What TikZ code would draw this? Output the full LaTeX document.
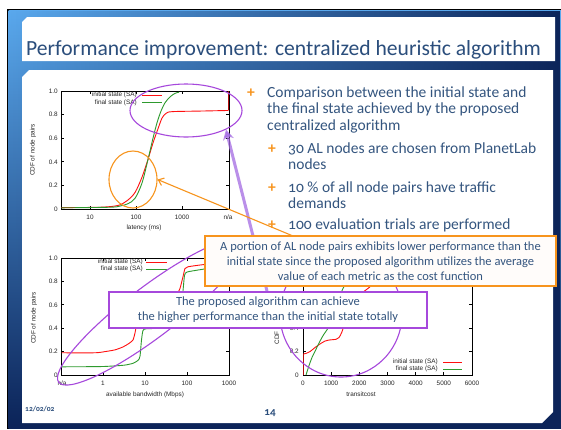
\documentclass[tikz,border=0pt]{standalone}
\usepackage{fontspec}
\setmainfont{Carlito}[Numbers=OldStyle]
\newfontfamily\plotfont{Liberation Sans}
\usetikzlibrary{arrows.meta,shapes.geometric,fadings}
\definecolor{txtblue}{HTML}{34557F}
\definecolor{ttlblue}{HTML}{2B4E7C}
\definecolor{orng}{HTML}{F7941D}
\definecolor{purp}{HTML}{A648DC}
\definecolor{arrowpurp}{HTML}{A36AE2}
\definecolor{plotred}{HTML}{FF1010}
\definecolor{plotgreen}{HTML}{2E9A2E}
\definecolor{bglight}{HTML}{5AA9EE}
\definecolor{bgmid}{HTML}{2C6CC0}
\definecolor{bgdark}{HTML}{0C2459}
\tikzfading[name=darkright, left color=transparent!100, right color=transparent!0]
\begin{document}
\begin{tikzpicture}[x=1pt,y=-1pt,
  plotframe/.style={line width=0.7pt,black},
  ticklab/.style={font=\plotfont\fontsize{6.4}{7}\selectfont, inner sep=0pt, text=black!85},
  redc/.style={plotred, line width=0.9pt},
  greenc/.style={plotgreen, line width=0.9pt},
  bodytxt/.style={anchor=base west, inner sep=0pt, text=txtblue, font=\fontsize{15.5}{16}\selectfont},
  plusmark/.style={anchor=base west, inner sep=0pt, text=orng, font=\fontsize{15.5}{16}\selectfont\bfseries},
  calltxt/.style={align=center, inner sep=0pt, text=txtblue, font=\fontsize{12.5}{15}\selectfont},
  oellipse/.style={draw=orng, line width=1.1pt, ellipse, inner sep=0pt},
  pellipse/.style={draw=purp, line width=1.1pt, ellipse, inner sep=0pt},
]
\useasboundingbox (0,0) rectangle (561,429);
\fill[white] (0,0) rectangle (561,429);
% slide background
\fill[black] (7,9) rectangle (561,429);
\shade[top color=bglight, middle color=bgmid, bottom color=bgdark] (8.5,10.5) rectangle (561,428);
\fill[bgdark, path fading=darkright] (8.5,10.5) rectangle (561,428);
% title panel
\fill[white] (22,22) -- (27,17) -- (555,17) -- (555,61) -- (22,61) -- cycle;
\node[anchor=base west, inner sep=0pt, text=ttlblue, font=\fontsize{21.6}{23}\selectfont] (title) at (26,55) {Performance improvement: centralized heuristic algorithm};
% content panel
\fill[white] (22,77) -- (29,70) -- (553,70) -- (553,412) -- (542,423) -- (22,423) -- cycle;

% ---------- top-left plot ----------
\draw[plotframe] (61,91) rectangle (229,209);
\foreach \v/\l [count=\i] in {0/0,0.2/0.2,0.4/0.4,0.6/0.6,0.8/0.8,1/1.0} {
  \draw[plotframe] (61,{209-118*\v}) -- ++(3,0);
  \draw[plotframe] (229,{209-118*\v}) -- ++(-3,0);
  \node[ticklab,anchor=east] (ya\i) at (58,{209-118*\v}) {\l};
}
\foreach \x/\l [count=\i] in {90/10,136/100,182/1000} {
  \draw[plotframe] (\x,209) -- ++(0,-3);
  \draw[plotframe] (\x,91) -- ++(0,3);
  \node[ticklab] (xa\i) at (\x,217) {\l};
}
\node[ticklab] (xana) at (228,217) {n/a};
\node[ticklab] (xlaba) at (144,228) {latency (ms)};
\node[ticklab,rotate=90] (ylaba) at (33,150) {CDF of node pairs};
\node[ticklab,anchor=east] (lega1) at (137,95) {initial state (SA)};
\node[ticklab,anchor=east] (lega2) at (137,102.5) {final state (SA)};
\draw[redc] (142,95) -- (162,95);
\draw[greenc] (142,102.5) -- (162,102.5);
\begin{scope}[shift={(0,209)}, y=118pt]
  \draw[redc] plot[smooth, tension=0.5] coordinates {(61.5,0.012) (100,0.015) (118,0.03) (127,0.07) (135,0.14) (142,0.27) (148,0.42) (153,0.56) (158,0.68) (162,0.77) (166,0.81) (172,0.825) (200,0.83) (228.5,0.835)};
  \draw[plotred!70!black, line width=0.9pt] (228.5,0.835) -- (228.5,1);
  \draw[greenc] plot[smooth, tension=0.5] coordinates {(61.5,0.01) (110,0.015) (120,0.025) (128,0.045) (135,0.09) (142,0.22) (148,0.42) (153,0.6) (157,0.73) (161,0.83) (165,0.9) (170,0.95) (175,0.98) (179,0.99)};
\end{scope}

% ---------- bottom-left plot ----------
\draw[plotframe] (61,258) rectangle (229,375);
\foreach \v/\l [count=\i] in {0/0,0.2/0.2,0.4/0.4,0.6/0.6,0.8/0.8,1/1.0} {
  \draw[plotframe] (61,{375-117*\v}) -- ++(3,0);
  \draw[plotframe] (229,{375-117*\v}) -- ++(-3,0);
  \node[ticklab,anchor=east] (yb\i) at (58,{375-117*\v}) {\l};
}
\foreach \x/\l [count=\i] in {103/1,145/10,187/100,229/1000} {
  \draw[plotframe] (\x,375) -- ++(0,-3);
  \draw[plotframe] (\x,258) -- ++(0,3);
  \node[ticklab] (xb\i) at (\x,383) {\l};
}
\node[ticklab] (xbna) at (62,383) {n/a};
\node[ticklab] (xlabb) at (145,395) {available bandwidth (Mbps)};
\node[ticklab,rotate=90] (ylabb) at (34,318) {CDF of node pairs};
\node[ticklab,anchor=east] (legb1) at (143,262) {initial state (SA)};
\node[ticklab,anchor=east] (legb2) at (143,269) {final state (SA)};
\draw[redc] (146,262) -- (167,262);
\draw[greenc] (146,269) -- (167,269);
\begin{scope}[shift={(0,375)}, y=117pt]
  \draw[redc] plot[smooth, tension=0.4] coordinates {(61.5,0.19) (95,0.19) (105,0.2) (115,0.215) (123,0.24) (129,0.27) (133,0.3) (135,0.36) (137,0.45) (139,0.52) (145,0.56) (160,0.6) (172,0.65) (177,0.69) (180,0.74) (183,0.84) (185,0.91) (188,0.925) (200,0.94) (215,0.955) (228.5,0.96)};
  \draw[greenc] plot[smooth, tension=0.4] coordinates {(61.5,0.07) (100,0.072) (115,0.078) (125,0.085) (133,0.1) (138,0.125) (140,0.16) (141.5,0.3) (143,0.38) (146,0.395) (160,0.40) (170,0.42) (176,0.47) (181,0.6) (183,0.72) (184.5,0.85) (187,0.88) (200,0.9) (215,0.92) (228.5,0.93)};
\end{scope}

% ---------- bottom-right plot ----------
\draw[plotframe] (303,258) rectangle (472,375);
\foreach \v/\l [count=\i] in {0/0,0.2/0.2,0.4/0.4} {
  \node[ticklab,anchor=east] (yc\i) at (299,{375-117*\v}) {\l};
}
\foreach \v in {0,0.2,0.4,0.6,0.8,1} {
  \draw[plotframe] (303,{375-117*\v}) -- ++(3,0);
  \draw[plotframe] (472,{375-117*\v}) -- ++(-3,0);
}
\foreach \k [count=\i] in {0,1000,2000,3000,4000,5000,6000} {
  \draw[plotframe] ({303+0.028167*\k},375) -- ++(0,-3);
  \draw[plotframe] ({303+0.028167*\k},258) -- ++(0,3);
  \node[ticklab] (xc\i) at ({303+0.028167*\k},383) {\k};
}
\node[ticklab] (xlabc) at (361,394) {transitcost};
\node[ticklab,rotate=90] (ylabc) at (277,338) {CDF};
\node[ticklab,anchor=east] (legc1) at (438,362) {initial state (SA)};
\node[ticklab,anchor=east] (legc2) at (438,369) {final state (SA)};
\draw[redc] (443,362) -- (462,362);
\draw[greenc] (443,369) -- (462,369);
\begin{scope}[shift={(0,375)}, y=117pt]
  \draw[plotred!70!black, line width=0.9pt] (303.5,0) -- (303.5,0.18);
  \draw[redc] plot[smooth, tension=0.5] coordinates {(303.5,0.18) (306,0.185) (310,0.2) (315,0.235) (320,0.265) (325,0.29) (330,0.30) (336,0.305) (339,0.32) (342,0.37) (345,0.45) (350,0.55) (356,0.64) (362,0.7) (368,0.74) (375,0.79) (385,0.86) (400,0.92) (420,0.96) (445,0.985) (470,0.995)};
  \draw[greenc] plot[smooth, tension=0.5] coordinates {(306,0) (309,0.08) (312,0.15) (316,0.22) (320,0.29) (324,0.35) (328,0.40) (333,0.5) (338,0.62) (343,0.74) (352,0.85) (365,0.93) (380,0.97) (400,0.99)};
\end{scope}

% ---------- bullet text ----------
\node[plusmark] (b1) at (247,97) {+};
\node[bodytxt] (t1) at (267,97) {Comparison between the initial state and};
\node[bodytxt] (t2) at (267,113.5) {the final state achieved by the proposed};
\node[bodytxt] (t3) at (267,130) {centralized algorithm};
\node[plusmark] (b2) at (268,153) {+};
\node[bodytxt] (t4) at (288,153) {30 AL nodes are chosen from PlanetLab};
\node[bodytxt] (t5) at (288,169.5) {nodes};
\node[plusmark] (b3) at (268,192) {+};
\node[bodytxt] (t6) at (288,192) {10 \% of all node pairs have traffic};
\node[bodytxt] (t7) at (288,208.5) {demands};
\node[plusmark] (b4) at (268,229) {+};
\node[bodytxt] (t8) at (288,229) {100 evaluation trials are performed};

% ---------- highlight ellipses ----------
\node[oellipse, minimum width=48pt, minimum height=57pt] (oell) at (133,179.5) {};
\node[pellipse, minimum width=112pt, minimum height=53pt] (pell1) at (186,110.5) {};
\node[pellipse, minimum width=232pt, minimum height=50pt, rotate=37.3] (pell2) at (151,312) {};
\node[pellipse, minimum width=122pt, minimum height=126pt] (pell3) at (341,314) {};

% ---------- callouts ----------
\node[draw=purp, line width=1.1pt, fill=white, minimum width=318pt, minimum height=36pt, inner sep=0pt] (pbox) at (268,310) {};
\node[calltxt] (ptxt) at (pbox.center) {The proposed algorithm can achieve\\the higher performance than the initial state totally};
\coordinate (pstart) at (267,291);
\draw[arrowpurp, opacity=0.75, line width=3pt, -{Stealth[length=10pt,width=11pt,inset=3pt]}] (pstart) -- (pell1.south east);

\node[draw=orng, line width=1.1pt, fill=orange!2, minimum width=351pt, minimum height=50pt, inner sep=0pt] (obox) at (380.5,261) {};
\node[calltxt] (otxt) at (obox.center) {A portion of AL node pairs exhibits lower performance than the\\initial state since the proposed algorithm utilizes the average\\value of each metric as the cost function};
\coordinate (ostart) at (293,236);
\draw[orng, line width=1.1pt, -{Straight Barb[length=5pt,width=8pt]}] (ostart) -- (oell.east);

% ---------- footer ----------
\node[anchor=base west, inner sep=0pt, text=ttlblue, font=\fontsize{7.5}{8}\selectfont\bfseries] (date) at (25,411) {12/02/02};
\node[anchor=base, inner sep=0pt, text=ttlblue, font=\fontsize{11}{12}\selectfont\bfseries] (pnum) at (270,415) {14};
\end{tikzpicture}
\end{document}
